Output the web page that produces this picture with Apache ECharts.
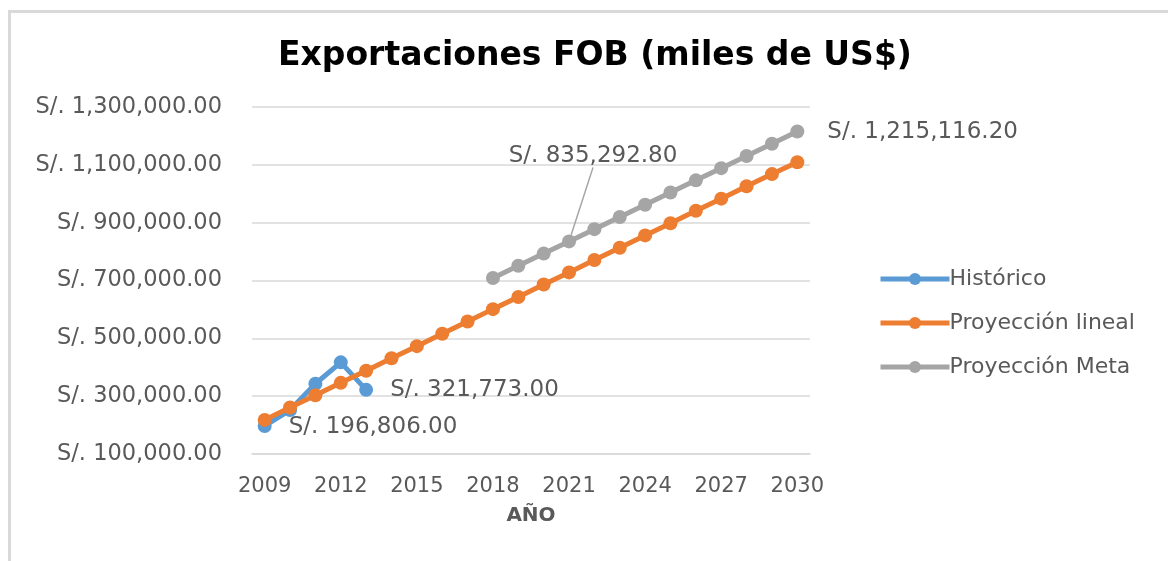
<!DOCTYPE html>
<html>
<head>
<meta charset="utf-8">
<script src="https://cdn.jsdelivr.net/npm/echarts@6/dist/echarts.min.js"></script>
<style>html,body{margin:0;padding:0;background:#fff;}#c{width:1168px;height:561px;}</style>
</head>
<body>
<div id="c"></div>
<script>
var years = ['2009','2010','2011','2012','2013','2014','2015','2016','2017','2018','2019','2020','2021','2022','2023','2024','2025','2026','2027','2028','2029','2030'];
var historico = [196806, 252000, 343000, 417000, 321773, null, null, null, null, null, null, null, null, null, null, null, null, null, null, null, null, null];
var lineal = [218000, 261000, 303000, 346000, 388000, 431000, 473000, 516000, 558000, 601000, 643000, 686000, 728000, 771000, 813000, 856000, 898000, 941000, 983000, 1026000, 1068000, 1109000];
var meta = [null, null, null, null, null, null, null, null, null, 708685, 750888, 793090, 835292.8, 877495, 919698, 961901, 1004103, 1046306, 1088509, 1130711, 1172914, 1215116.2];
var yTicks = {min: 100000, max: 1300000, interval: 200000};
var labeled = {historico: [0, 4], meta: [12, 21]};

function fmt(v) {
  return 'S/. ' + Number(v).toLocaleString('en-US', {minimumFractionDigits: 2, maximumFractionDigits: 2});
}
var FONT = 'DejaVu Sans';
var TXT = '#595959';

function withLabels(arr, idxs, labelOpts, lineIdx) {
  return arr.map(function (v, i) {
    if (idxs.indexOf(i) >= 0 && v != null) {
      var item = {value: v, label: Object.assign({show: true, formatter: function (p) { return fmt(p.value); }, color: TXT, fontFamily: FONT, fontSize: 23}, labelOpts[i] || {})};
      item.labelLine = {show: i === lineIdx, lineStyle: {color: '#a5a5a5', width: 1.5}};
      return item;
    }
    return v;
  });
}

var chart = echarts.init(document.getElementById('c'), null, {renderer: 'canvas'});
chart.setOption({
  animation: false,
  backgroundColor: '#fff',
  graphic: [{
    type: 'rect', z: -10,
    shape: {x: 9.5, y: 11.5, width: 1300, height: 700},
    style: {fill: '#fff', stroke: '#d9d9d9', lineWidth: 3}
  }],
  title: {
    text: 'Exportaciones FOB (miles de US$)',
    left: 273, top: 35,
    textStyle: {fontFamily: FONT, fontWeight: 'bold', fontSize: 33, color: '#000'}
  },
  legend: {
    orient: 'vertical', left: 873, top: 263,
    itemWidth: 69, itemHeight: 15, itemGap: 22,
    lineStyle: {width: 5},
    textStyle: {fontFamily: FONT, fontSize: 22, color: TXT, padding: [0, 0, 0, -5]},
    data: ['Histórico', 'Proyección lineal', 'Proyección Meta']
  },
  grid: {left: 252, right: 358, top: 107, bottom: 107},
  xAxis: {
    type: 'category', data: years, boundaryGap: true,
    name: 'AÑO', nameLocation: 'middle', nameGap: 52,
    nameTextStyle: {fontFamily: FONT, fontWeight: 'bold', fontSize: 20, color: TXT},
    axisLine: {show: true, lineStyle: {color: '#d9d9d9', width: 1.5}},
    axisTick: {show: false},
    axisLabel: {interval: 2, margin: 22, fontFamily: FONT, fontSize: 21, color: TXT}
  },
  yAxis: {
    type: 'value', min: yTicks.min, max: yTicks.max, interval: yTicks.interval,
    axisLine: {show: false}, axisTick: {show: false},
    splitLine: {lineStyle: {color: '#d9d9d9', width: 1.5}},
    axisLabel: {margin: 30, fontFamily: FONT, fontSize: 22.5, color: TXT, formatter: fmt}
  },
  series: [
    {
      name: 'Histórico', type: 'line', z: 3,
      data: withLabels(historico, labeled.historico, {0: {position: 'right', offset: [12, 1]}, 4: {position: 'right', offset: [12, 0]}}, -1),
      symbol: 'circle', symbolSize: 14, showAllSymbol: true,
      lineStyle: {color: '#5B9BD5', width: 5}, itemStyle: {color: '#5B9BD5'}
    },
    {
      name: 'Proyección lineal', type: 'line', z: 4,
      data: lineal,
      symbol: 'circle', symbolSize: 14, showAllSymbol: true,
      lineStyle: {color: '#ED7D31', width: 5}, itemStyle: {color: '#ED7D31'}
    },
    {
      name: 'Proyección Meta', type: 'line', z: 2,
      data: withLabels(meta, labeled.meta, {12: {position: 'top'}, 21: {position: 'right'}}, 12),
      symbol: 'circle', symbolSize: 14, showAllSymbol: true,
      lineStyle: {color: '#A5A5A5', width: 5}, itemStyle: {color: '#A5A5A5'},
      labelLayout: function (p) {
        if (p.dataIndex === 12) { return {dx: 24, dy: -62}; }
        if (p.dataIndex === 21) { return {dx: 18, dy: 0}; }
        return {};
      }
    }
  ]
});
</script>
</body>
</html>
